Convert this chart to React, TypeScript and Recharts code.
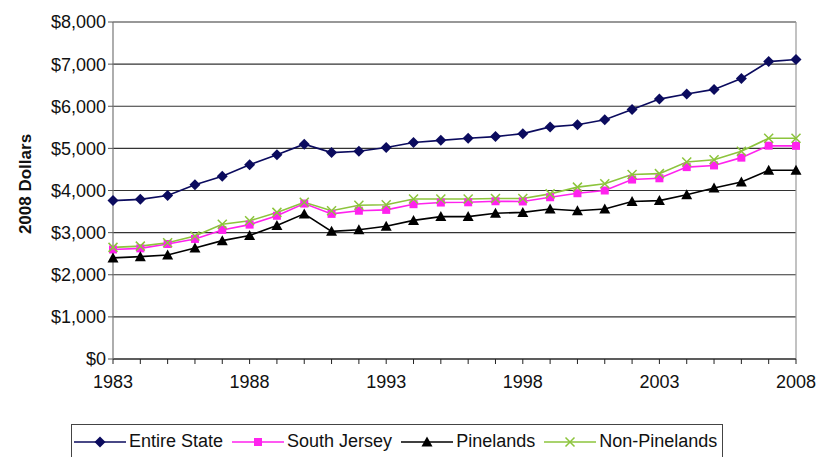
import {
  CartesianGrid,
  Legend,
  Line,
  LineChart,
  ReferenceLine,
  XAxis,
  YAxis,
} from "recharts";

const years = [
  "1983", "1984", "1985", "1986", "1987", "1988", "1989", "1990", "1991",
  "1992", "1993", "1994", "1995", "1996", "1997", "1998", "1999", "2000",
  "2001", "2002", "2003", "2004", "2005", "2006", "2007", "2008",
];
const entireState = [
  3760, 3790, 3880, 4135, 4340, 4610, 4850, 5100, 4900, 4930, 5020, 5140,
  5190, 5240, 5280, 5350, 5510, 5560, 5680, 5920, 6170, 6290, 6400, 6660,
  7060, 7110,
];
const southJersey = [
  2600, 2626, 2730, 2850, 3064, 3190, 3400, 3690, 3445, 3520, 3540, 3675,
  3714, 3720, 3745, 3740, 3840, 3935, 4000, 4260, 4290, 4555, 4595, 4780,
  5064, 5060,
];
const pinelands = [
  2400, 2430, 2470, 2635, 2810, 2930, 3170, 3445, 3030, 3070, 3150, 3290,
  3380, 3380, 3460, 3480, 3560, 3520, 3560, 3740, 3760, 3900, 4060, 4200,
  4480, 4480,
];
const nonPinelands = [
  2650, 2680, 2760, 2920, 3200, 3280, 3480, 3720, 3520, 3650, 3660, 3800,
  3800, 3800, 3810, 3810, 3920, 4080, 4160, 4380, 4400, 4675, 4730, 4930,
  5240, 5240,
];
const yTicks = [0, 1000, 2000, 3000, 4000, 5000, 6000, 7000, 8000];

const data = years.map((year, i) => ({
  year,
  entire: entireState[i],
  south: southJersey[i],
  pine: pinelands[i],
  nonPine: nonPinelands[i],
}));

const FONT = "'Liberation Sans', Arial, sans-serif";
const NAVY = "#0b0b5e";
const MAGENTA = "#ff22ee";
const BLACK = "#000000";
const GREEN = "#8cc43c";

function markerShape(kind: string, cx: number, cy: number, color: string) {
  if (kind === "diamond") {
    return (
      <path
        d={`M${cx},${cy - 5.5}L${cx + 5.5},${cy}L${cx},${cy + 5.5}L${cx - 5.5},${cy}Z`}
        fill={color}
      />
    );
  }
  if (kind === "square") {
    return <rect x={cx - 4} y={cy - 4} width={8} height={8} fill={color} />;
  }
  if (kind === "triangle") {
    return (
      <path
        d={`M${cx},${cy - 5.5}L${cx + 5.5},${cy + 4.5}L${cx - 5.5},${cy + 4.5}Z`}
        fill={color}
      />
    );
  }
  return (
    <path
      d={`M${cx - 4.5},${cy - 4.5}L${cx + 4.5},${cy + 4.5}M${cx + 4.5},${cy - 4.5}L${cx - 4.5},${cy + 4.5}`}
      stroke={color}
      strokeWidth={1.5}
      fill="none"
    />
  );
}

const makeDot = (kind: string, color: string) => (props: any) => {
  const { cx, cy, index } = props;
  if (cx == null || cy == null) return <g key={index} />;
  return <g key={`${kind}-${index}`}>{markerShape(kind, cx, cy, color)}</g>;
};

const series = [
  { key: "entire", name: "Entire State", color: NAVY, kind: "diamond" },
  { key: "south", name: "South Jersey", color: MAGENTA, kind: "square" },
  { key: "pine", name: "Pinelands", color: BLACK, kind: "triangle" },
  { key: "nonPine", name: "Non-Pinelands", color: GREEN, kind: "x" },
];

function LegendBox() {
  return (
    <div
      style={{
        display: "flex",
        alignItems: "flex-start",
        border: "1px solid #444",
        borderBottom: "none",
        height: 36,
        width: 652,
        boxSizing: "border-box",
        paddingLeft: 2,
        paddingTop: 6,
        fontFamily: FONT,
        fontSize: 18,
        color: "#111",
        background: "#fff",
        whiteSpace: "nowrap",
      }}
    >
      {series.map((s) => (
        <div
          key={s.key}
          style={{ display: "flex", alignItems: "center", marginRight: 9, flexShrink: 0 }}
        >
          <svg width={52} height={16} style={{ marginRight: 3, flexShrink: 0 }}>
            <line x1={0} y1={8} x2={52} y2={8} stroke={s.color} strokeWidth={1.5} />
            {markerShape(s.kind, 26, 8, s.color)}
          </svg>
          <span>{s.name}</span>
        </div>
      ))}
    </div>
  );
}

const yearTick = (v: string) => ((Number(v) - 1983) % 5 === 0 ? v : "");

export default function App() {
  return (
    <div style={{ position: "absolute", left: 0, top: 0, width: 817, height: 457, background: "#fff", overflow: "hidden" }}>
      <LineChart
        width={817}
        height={457}
        data={data}
        margin={{ top: 22, right: 21, bottom: 32, left: 33 }}
      >
        <CartesianGrid vertical={false} stroke="#333" strokeWidth={1.2} />
        <XAxis
          dataKey="year"
          interval={0}
          tickFormatter={yearTick}
          height={30}
          tickSize={5}
          tick={{ fill: "#111", fontSize: 18, fontFamily: FONT, dy: 9 }}
          axisLine={{ stroke: "#222", strokeWidth: 1.2 }}
          tickLine={{ stroke: "#222" }}
        />
        <YAxis
          domain={[0, 8000]}
          ticks={yTicks}
          width={80}
          tickSize={5}
          tickFormatter={(v: number) => `$${v.toLocaleString("en-US")}`}
          tick={{ fill: "#111", fontSize: 18, fontFamily: FONT }}
          axisLine={{ stroke: "#777", strokeWidth: 1.2 }}
          tickLine={{ stroke: "#555" }}
          label={{
            content: () => (
              <text
                x={27}
                y={184}
                transform="rotate(-90 27 184)"
                textAnchor="middle"
                dominantBaseline="middle"
                fontFamily={FONT}
                fontWeight="bold"
                fontSize={17}
                fill="#111"
              >
                2008 Dollars
              </text>
            ),
          }}
        />
        <ReferenceLine x="2008" stroke="#999" strokeWidth={1.2} />
        {series.map((s) => (
          <Line
            key={s.key}
            type="linear"
            dataKey={s.key}
            name={s.name}
            stroke={s.color}
            strokeWidth={1.6}
            dot={makeDot(s.kind, s.color)}
            activeDot={false}
            isAnimationActive={false}
          />
        ))}
        <Legend
          content={() => <LegendBox />}
          wrapperStyle={{ position: "absolute", left: 71, top: 424, width: 652 }}
        />
      </LineChart>
    </div>
  );
}
